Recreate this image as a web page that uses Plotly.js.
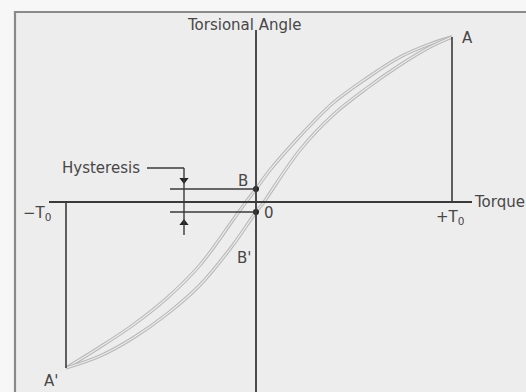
<!DOCTYPE html>
<html>
<head>
<meta charset="utf-8">
<script src="https://cdn.plot.ly/plotly-3.0.1.min.js"></script>
<style>
  html, body { margin: 0; padding: 0; background: #f7f7f7; }
  #chart { width: 526px; height: 392px; }
</style>
</head>
<body>
<div id="chart"></div>
<script>
// Torque vs torsional angle, arbitrary units (one unit per screen pixel)
// Unloading branch: from +T0 (A) back through B to -T0 (A')
const unloadTorque = [196, 174, 144, 111, 77, 44, 14, 0, -10, -23, -56, -89, -123, -156, -190];
const unloadAngle  = [165, 158, 145, 124, 99, 66, 32, 13, 0, -18, -63, -96, -123, -145, -166];
// Loading branch: from -T0 (A') through B' up to +T0 (A)
const loadTorque = [-190, -156, -123, -89, -56, -23, 0, 8, 14, 44, 77, 111, 144, 174, 196];
const loadAngle  = [-166, -154, -136, -112, -83, -43, -10, 0, 9, 52, 87, 114, 137, 155, 165];

// Key points of the loop
const pointA      = [196, 165];
const pointAprime = [-190, -166];
const angleB      = 13;    // angle at zero torque when unloading
const angleBprime = -10;   // angle at zero torque when loading

// Text labels
const labelAxisY = 'Torsional Angle';
const labelAxisX = 'Torque';
const labelHyst  = 'Hysteresis';

const ink = '#3a3a3a';
const curveOuter = '#b8b8b8';
const curveInner = '#ececec';

function branch(x, y, color, width) {
  return {
    x: x, y: y, type: 'scatter', mode: 'lines',
    line: { color: color, width: width, shape: 'spline', smoothing: 1.0 },
    hoverinfo: 'skip', showlegend: false
  };
}

const traces = [
  branch(unloadTorque, unloadAngle, curveOuter, 3.4),
  branch(unloadTorque, unloadAngle, curveInner, 1.2),
  branch(loadTorque, loadAngle, curveOuter, 3.4),
  branch(loadTorque, loadAngle, curveInner, 1.2),
  // zero-torque crossings
  {
    x: [0, 0], y: [angleB, angleBprime], type: 'scatter', mode: 'markers',
    marker: { color: '#222', size: 6 }, hoverinfo: 'skip', showlegend: false
  },
  // hysteresis dimension arrowheads
  {
    x: [-72, -72], y: [22, -21], type: 'scatter', mode: 'markers',
    marker: { color: '#222', size: 8, symbol: ['triangle-down', 'triangle-up'] },
    hoverinfo: 'skip', showlegend: false
  }
];

function seg(x0, y0, x1, y1, w, c) {
  return { type: 'line', xref: 'x', yref: 'y', x0: x0, y0: y0, x1: x1, y1: y1,
           line: { color: c || ink, width: w || 1.6 }, layer: 'above' };
}

const shapes = [
  // panel frame
  { type: 'rect', xref: 'x', yref: 'y', x0: -241, y0: 190, x1: 300, y1: -220,
    fillcolor: '#ededed', line: { color: '#8a8a8a', width: 2.2 }, layer: 'below' },
  // axes
  seg(0, 172, 0, -200, 1.8),
  seg(-207, 0, 216, 0, 1.8),
  // drop lines at +T0 and -T0
  seg(pointA[0], pointA[1], pointA[0], 0, 1.6),
  seg(pointAprime[0], pointAprime[1], pointAprime[0], 0, 1.6),
  // hysteresis extension lines
  seg(-86, angleB, 0, angleB, 1.6),
  seg(-86, angleBprime, 0, angleBprime, 1.6),
  // hysteresis dimension line and leader
  seg(-72, 34, -72, -33, 1.4),
  seg(-109, 34, -72, 34, 1.4)
];

const font = { family: 'DejaVu Sans, Verdana, sans-serif', size: 15, color: '#474747' };
function label(text, x, y, xanchor, size) {
  return { text: text, x: x, y: y, xref: 'x', yref: 'y', showarrow: false,
           xanchor: xanchor || 'center', yanchor: 'middle',
           font: Object.assign({}, font, size ? { size: size } : {}) };
}

const annotations = [
  label(labelAxisY, -12, 177),
  label(labelAxisX, 216, 0, 'left'),
  label('A', 211, 164),
  label("A'", -205, -179),
  label('B', -13, 21),
  label('0', 13, -11),
  label("B'", -12, -56),
  label('+T<sub>0</sub>', 194, -15),
  label('\u2212T<sub>0</sub>', -219, -11),
  label(labelHyst, -155, 34)
];

const layout = {
  width: 526, height: 392,
  margin: { l: 0, r: 0, t: 0, b: 0 },
  paper_bgcolor: '#f7f7f7',
  plot_bgcolor: '#f7f7f7',
  xaxis: { range: [-256, 270], visible: false, fixedrange: true },
  yaxis: { range: [-190, 202], visible: false, fixedrange: true },
  shapes: shapes,
  annotations: annotations,
  showlegend: false
};

Plotly.newPlot('chart', traces, layout, { staticPlot: true, displayModeBar: false });
</script>
</body>
</html>
